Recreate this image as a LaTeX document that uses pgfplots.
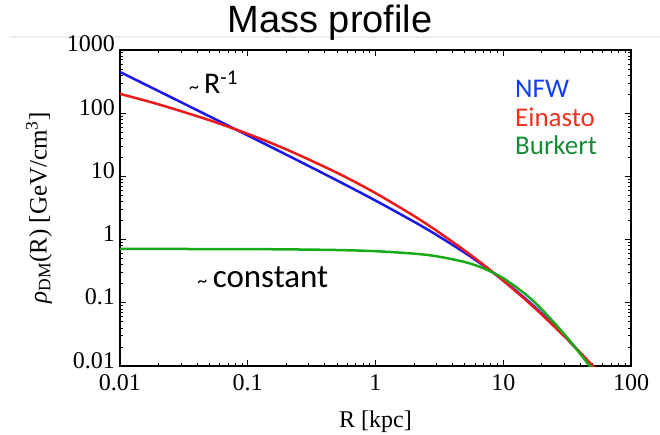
\documentclass[border=0pt]{standalone}
\usepackage{pgfplots}
\pgfplotsset{compat=1.18}
\usepackage{fontspec}
\setmainfont{Liberation Serif}
\newfontfamily\carlito{Carlito}
\newfontfamily\arialf{Liberation Sans}
\definecolor{nfwline}{RGB}{25,25,235}
\definecolor{einline}{RGB}{235,25,25}
\definecolor{burline}{RGB}{25,170,25}
\definecolor{nfwtext}{RGB}{20,60,240}
\definecolor{eintext}{RGB}{240,50,30}
\definecolor{burtext}{RGB}{20,140,55}

\pgfplotstableread{
R rho
0.01 448.95
0.02 224.3
0.05 89.50
0.1 44.57
0.2 22.10
0.5 8.630
1 4.147
2 1.919
3 1.188
5 0.6192
7 0.3877
10 0.2262
15 0.1150
20 0.06790
30 0.03016
40 0.01614
50 0.00968
60 0.006266
}\nfwdata

\pgfplotstableread{
R rho
0.01 202.3
0.02 138.3
0.05 77.61
0.1 47.06
0.2 26.80
0.5 11.41
1 5.443
2 2.367
3 1.3867
5 0.6695
7 0.3999
10 0.2240
15 0.11093
20 0.06536
30 0.029643
40 0.016349
50 0.010097
60 0.006717
}\eindata

\pgfplotstableread{
R rho
0.01 0.71144
0.02 0.71088
0.05 0.70919
0.1 0.70638
0.2 0.70076
0.5 0.68390
1 0.65583
2 0.59998
3 0.54513
5 0.44174
7 0.35137
10 0.24519
15 0.13575
20 0.079079
30 0.032001
40 0.015617
50 0.0086853
60 0.0052991
}\burdata

\begin{document}
\begin{tikzpicture}
\path[use as bounding box] (-120pt,-69pt) rectangle (540pt,366pt);
\draw[black!7, line width=1.5pt] (-110pt,329pt) -- (540pt,329pt);
\node[anchor=base, inner sep=0pt, font=\arialf\fontsize{38}{38}\selectfont] at (210pt,333pt) {Mass profile};
\begin{axis}[
  at={(0pt,0pt)}, anchor=south west,
  width=511pt, height=316pt, scale only axis,
  xmode=log, ymode=log,
  xmin=0.01, xmax=100, ymin=0.01, ymax=1000,
  xtick={0.01,0.1,1,10,100}, xticklabels={0.01,0.1,1,10,100},
  ytick={0.01,0.1,1,10,100,1000}, yticklabels={0.01,0.1,1,10,100,1000},
  tick label style={font=\fontsize{24}{24}\selectfont, inner sep=0pt},
  xticklabel style={anchor=base, yshift=-24pt},
  yticklabel style={anchor=base east, xshift=-5pt, yshift=-2pt},
  major tick length=6pt, minor tick length=3pt,
  tick align=inside,
  every tick/.style={black, line width=0.8pt},
  axis line style={line width=1.5pt},
  xlabel={R [kpc]},
  ylabel={\textit{ρ}\textsubscript{DM}(R) [GeV/cm\textsuperscript{3}]},
  xlabel style={at={(axis description cs:0.5,-0.196)}, anchor=base, font=\fontsize{24}{24}\selectfont, inner sep=0pt},
  ylabel style={at={(axis description cs:-0.1585,0.5)}, anchor=center, font=\fontsize{25}{25}\selectfont, inner sep=0pt},
  clip=true,
]
\addplot[nfwline, line width=2.5pt, smooth] table[x=R, y=rho] {\nfwdata};
\addplot[einline, line width=2.5pt, smooth] table[x=R, y=rho] {\eindata};
\addplot[burline, line width=2.5pt, smooth] table[x=R, y=rho] {\burdata};
\node[anchor=base west, inner sep=0pt, font=\carlito\fontsize{27}{27}\selectfont, text=nfwtext] at (rel axis cs:0.773,0.851) {NFW};
\node[anchor=base west, inner sep=0pt, font=\carlito\fontsize{27}{27}\selectfont, text=eintext] at (rel axis cs:0.773,0.759) {Einasto};
\node[anchor=base west, inner sep=0pt, font=\carlito\fontsize{27}{27}\selectfont, text=burtext] at (rel axis cs:0.773,0.668) {Burkert};
\node[anchor=base west, inner sep=0pt, font=\carlito\fontsize{30}{30}\selectfont] at (rel axis cs:0.135,0.861) {{\fontsize{20}{20}\selectfont\textasciitilde}\,R\textsuperscript{-1}};
\node[anchor=base west, inner sep=0pt, font=\carlito\fontsize{33}{33}\selectfont] at (rel axis cs:0.151,0.247) {{\fontsize{20}{20}\selectfont\textasciitilde}\,constant};
\end{axis}
\end{tikzpicture}
\end{document}
